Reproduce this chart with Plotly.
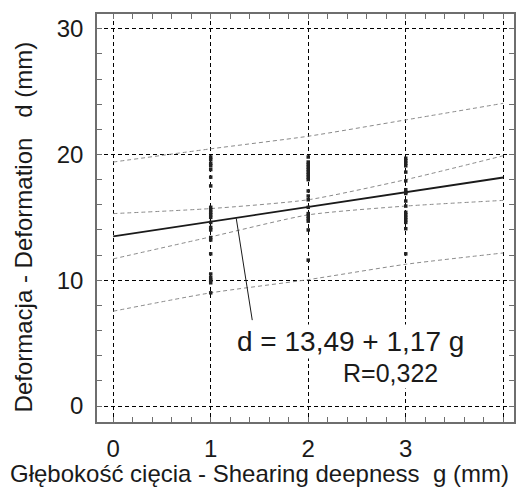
import plotly.graph_objects as go

# ---- data ----
depth_1 = [19.8, 19.6, 19.3, 19.1, 18.8, 18.2, 17.5, 15.8, 15.6, 15.4, 15.2, 15.0,
           14.6, 14.2, 14.0, 13.4, 13.2, 12.1, 10.5, 10.2, 10.0, 9.8, 9.0]
depth_2 = [19.8, 19.4, 19.2, 19.0, 18.8, 18.6, 18.4, 18.2, 18.0, 17.1, 16.7, 16.4,
           15.8, 15.3, 15.1, 14.9, 14.7, 14.0, 11.6]
depth_3 = [19.7, 19.5, 19.3, 19.1, 18.6, 17.9, 17.2, 17.0, 16.9, 16.3, 15.9, 15.4,
           15.2, 15.0, 14.8, 14.6, 14.1, 12.1]

reg_x = [0, 4]
reg_y = [13.49, 18.17]

band_x = [0, 1, 2, 3, 4]
conf_upper = [15.3, 15.7, 16.4, 18.0, 19.9]
conf_lower = [11.7, 13.45, 15.2, 15.9, 16.35]
pred_upper = [19.4, 20.45, 21.45, 22.75, 24.07]
pred_lower = [7.54, 9.0, 10.05, 11.27, 12.17]

x_ticks = [0, 1, 2, 3, 4]
x_labels = ["0", "1", "2", "3", ""]
y_ticks = [0, 10, 20, 30]
y_labels = ["0", "10", "20", "30"]

pointer_x = [1.262, 1.426]
pointer_y = [14.92, 6.83]

FONT = "Liberation Sans, Arial, sans-serif"

fig = go.Figure()

pts_x = [1] * len(depth_1) + [2] * len(depth_2) + [3] * len(depth_3)
pts_y = depth_1 + depth_2 + depth_3

for yy in (conf_upper, conf_lower, pred_upper, pred_lower):
    fig.add_trace(go.Scatter(x=band_x, y=yy, mode="lines",
                             line=dict(color="#8a8a8a", width=1, dash="4px,3px", shape="spline", smoothing=0.6),
                             hoverinfo="skip", showlegend=False))

fig.add_trace(go.Scatter(x=reg_x, y=reg_y, mode="lines",
                         line=dict(color="#1a1a1a", width=1.8), showlegend=False))

fig.add_trace(go.Scatter(x=pts_x, y=pts_y, mode="markers",
                         marker=dict(symbol="square", size=3.5, color="#222222"),
                         showlegend=False))

fig.add_trace(go.Scatter(x=pointer_x, y=pointer_y, mode="lines",
                         line=dict(color="#1a1a1a", width=1), showlegend=False))

axis_common = dict(
    showline=True, linecolor="#6e6e6e", linewidth=1.5, mirror="allticks",
    ticks="inside", ticklen=5, tickcolor="#6e6e6e",
    showgrid=True, gridcolor="#000000", gridwidth=1, griddash="4px,3px",
    zeroline=False, tickfont=dict(family=FONT, size=24, color="#1a1a1a"),
)

fig.update_xaxes(range=[-0.166, 4.11], tickvals=x_ticks, ticktext=x_labels,
                 minor=dict(dtick=0.2, tick0=0, ticks="inside", ticklen=5, tickcolor="#6e6e6e", showgrid=False),
                 ticklabelstandoff=4, **axis_common)
fig.update_yaxes(range=[-1.27, 31.17], tickvals=y_ticks, ticktext=y_labels,
                 minor=dict(dtick=2, tick0=0, ticks="inside", ticklen=5, tickcolor="#6e6e6e", showgrid=False),
                 ticklabelstandoff=7, **axis_common)

fig.add_annotation(x=2.43, y=5.1, xref="x", yref="y", text="d = 13,49 + 1,17 g",
                   showarrow=False, bgcolor="white", xanchor="center", yanchor="middle",
                   font=dict(family=FONT, size=28, color="#1a1a1a"))
fig.add_annotation(x=2.84, y=2.6, xref="x", yref="y", text="R=0,322",
                   showarrow=False, bgcolor="white", xanchor="center", yanchor="middle",
                   font=dict(family=FONT, size=25, color="#1a1a1a"))

fig.add_annotation(x=0.39, y=-0.127, xref="paper", yref="paper",
                   text="Głębokość cięcia - Shearing deepness  g (mm)",
                   xanchor="center", yanchor="middle",
                   showarrow=False, font=dict(family=FONT, size=24, color="#1a1a1a"))
fig.add_annotation(x=-0.174, y=0.478, xref="paper", yref="paper",
                   text="Deformacja - Deformation   d (mm)", textangle=-90,
                   xanchor="center", yanchor="middle",
                   showarrow=False, font=dict(family=FONT, size=24, color="#1a1a1a"))

fig.update_layout(width=517, height=488, margin=dict(l=97, r=1, t=14, b=66),
                  paper_bgcolor="white", plot_bgcolor="white", showlegend=False)

fig.write_html("out.html")
